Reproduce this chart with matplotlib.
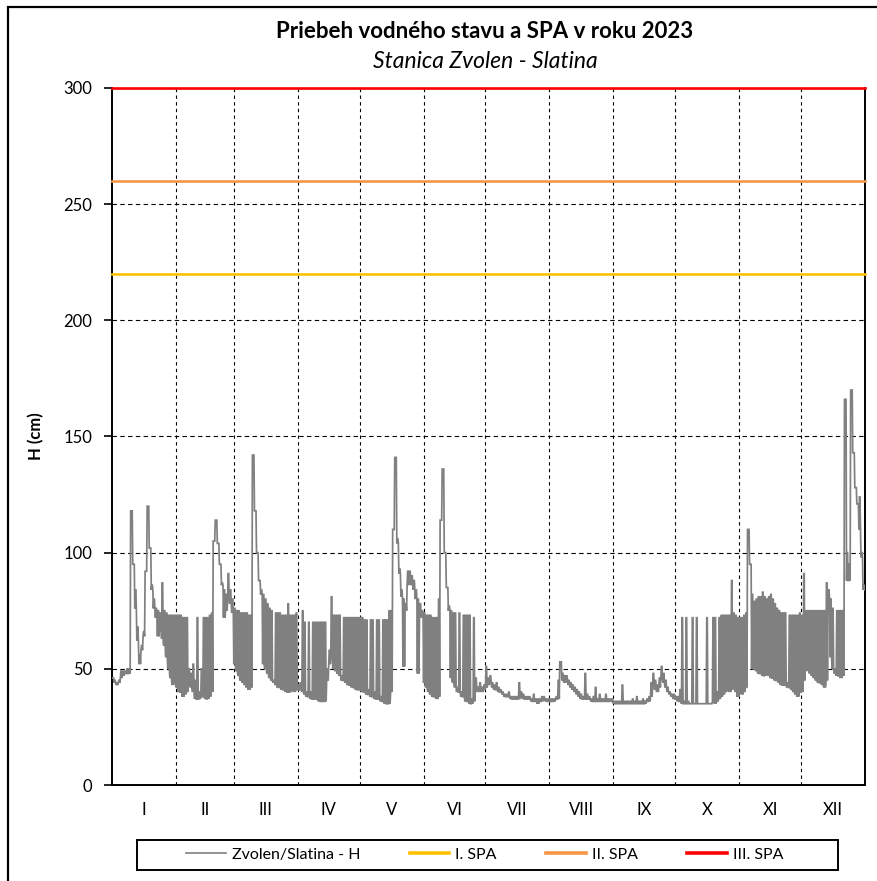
import matplotlib
matplotlib.use("Agg")
import matplotlib.pyplot as plt
from matplotlib.patches import Rectangle
from matplotlib.lines import Line2D

plt.rcParams['font.family'] = ['Lato', 'DejaVu Sans']

# ---------------- data ----------------
months = ['I', 'II', 'III', 'IV', 'V', 'VI', 'VII', 'VIII', 'IX', 'X', 'XI', 'XII']
month_days = [31, 28, 31, 30, 31, 30, 31, 31, 30, 31, 30, 31]

spa_levels = [220, 260, 300]
spa_labels = ['I. SPA', 'II. SPA', 'III. SPA']
spa_colors = ['#FFC000', '#F79646', '#FF0000']
series_label = 'Zvolen/Slatina - H'

# daily maximum / minimum water level H (cm)
jan_high = [46, 45, 44, 45, 49, 49, 49, 50, 50, 118, 95, 84, 68, 56, 60, 66, 92, 120, 102, 86,
            80, 76, 75, 74, 87, 75, 74, 73, 73, 73, 73]
jan_low = [46, 44, 43, 44, 46, 47, 48, 48, 48, 118, 95, 76, 62, 52, 58, 64, 92, 120, 102, 84,
           76, 72, 64, 68, 63, 60, 55, 50, 46, 43, 45]
feb_high = [73, 73, 73, 72, 72, 72, 50, 48, 52, 45, 72, 40, 50, 72, 72, 72, 73, 74, 105, 114,
            104, 95, 87, 84, 82, 91, 84, 80]
feb_low = [42, 40, 40, 38, 39, 40, 44, 42, 40, 37, 37, 37, 38, 38, 37, 37, 38, 40, 105, 114,
           104, 95, 86, 72, 75, 80, 78, 74]
mar_high = [76, 75, 75, 74, 74, 74, 74, 73, 73, 142, 118, 100, 88, 84, 82, 80, 78, 76, 75, 45,
            74, 74, 74, 73, 73, 73, 78, 73, 73, 73, 74]
mar_low = [52, 49, 47, 45, 44, 43, 42, 41, 42, 142, 118, 100, 88, 82, 52, 50, 48, 46, 45, 44,
           43, 42, 42, 41, 41, 40, 40, 40, 41, 40, 41]
apr_high = [43, 44, 75, 70, 40, 70, 40, 70, 70, 70, 70, 70, 70, 70, 50, 58, 81, 73, 73, 73,
            73, 47, 72, 72, 72, 72, 72, 72, 72, 72]
apr_low = [41, 41, 40, 39, 38, 38, 37, 37, 37, 37, 36, 36, 36, 36, 45, 52, 55, 50, 49, 48,
           47, 45, 45, 44, 43, 43, 42, 42, 41, 41]
may_high = [72, 72, 71, 71, 41, 71, 71, 40, 71, 71, 38, 71, 71, 71, 75, 75, 110, 141, 106, 93,
            84, 80, 78, 92, 92, 90, 88, 84, 80, 78, 75]
may_low = [41, 40, 40, 39, 39, 38, 38, 37, 37, 37, 36, 36, 35, 35, 35, 40, 110, 141, 104, 91,
           81, 51, 75, 86, 88, 86, 84, 80, 48, 74, 72]
jun_high = [74, 73, 73, 73, 72, 72, 72, 80, 114, 136, 100, 85, 77, 75, 74, 74, 42, 74, 40, 73,
            73, 73, 73, 37, 72, 46, 42, 44, 42, 43]
jun_low = [44, 42, 40, 39, 38, 38, 37, 38, 114, 136, 100, 85, 75, 46, 44, 42, 40, 40, 38, 38,
           36, 36, 35, 35, 36, 42, 40, 41, 40, 41]
jul_high = [51, 46, 47, 44, 43, 44, 42, 41, 40, 39, 39, 40, 38, 38, 38, 38, 44, 40, 39, 38,
            38, 38, 37, 39, 37, 37, 37, 38, 38, 37, 37]
jul_low = [42, 43, 44, 42, 41, 41, 40, 40, 39, 38, 38, 38, 37, 37, 37, 37, 37, 38, 37, 37,
           37, 37, 36, 36, 36, 35, 36, 36, 37, 36, 36]
aug_high = [37, 37, 37, 38, 45, 53, 48, 47, 47, 45, 44, 43, 42, 41, 40, 39, 38, 48, 39, 38,
            37, 38, 42, 37, 39, 37, 37, 39, 37, 37, 37]
aug_low = [36, 36, 36, 37, 37, 53, 45, 44, 45, 43, 42, 41, 40, 39, 38, 37, 37, 37, 37, 37,
           36, 36, 36, 36, 36, 36, 36, 36, 36, 36, 36]
sep_high = [36, 36, 36, 36, 43, 36, 36, 36, 36, 37, 36, 38, 36, 36, 37, 36, 37, 38, 44, 48,
            45, 43, 46, 51, 48, 45, 42, 40, 39, 39]
sep_low = [35, 35, 35, 35, 35, 35, 35, 35, 35, 35, 35, 35, 35, 35, 35, 35, 36, 36, 38, 43,
           41, 40, 42, 46, 44, 42, 40, 39, 38, 37]
oct_high = [38, 38, 41, 72, 36, 72, 36, 35, 72, 35, 72, 35, 35, 35, 35, 72, 35, 35, 72, 72,
            40, 72, 73, 73, 73, 73, 73, 88, 74, 73, 72]
oct_low = [37, 36, 36, 35, 35, 35, 35, 35, 35, 35, 35, 35, 35, 35, 35, 35, 35, 35, 36, 35,
           36, 37, 38, 39, 40, 41, 40, 41, 42, 40, 38]
nov_high = [72, 72, 73, 74, 110, 95, 82, 79, 80, 81, 81, 83, 81, 80, 81, 82, 80, 78, 76, 75,
            74, 74, 74, 44, 73, 73, 73, 73, 73, 74]
nov_low = [40, 39, 40, 42, 110, 95, 50, 50, 49, 48, 48, 47, 47, 48, 47, 46, 46, 45, 45, 44,
           43, 43, 43, 42, 42, 41, 40, 39, 38, 40]
dec_high = [73, 91, 75, 75, 75, 75, 75, 75, 75, 75, 75, 75, 87, 84, 80, 76, 50, 75, 75, 75,
            75, 166, 100, 95, 170, 143, 128, 121, 124, 100, 86]
dec_low = [40, 45, 50, 49, 48, 47, 46, 45, 44, 44, 43, 42, 45, 80, 55, 50, 48, 47, 47, 46,
           47, 166, 88, 88, 170, 143, 128, 121, 110, 98, 84]

h_high = (jan_high + feb_high + mar_high + apr_high + may_high + jun_high +
          jul_high + aug_high + sep_high + oct_high + nov_high + dec_high)
h_low = (jan_low + feb_low + mar_low + apr_low + may_low + jun_low +
         jul_low + aug_low + sep_low + oct_low + nov_low + dec_low)

# ---------------- figure ----------------
W, H = 877, 881
fig = plt.figure(figsize=(W / 100, H / 100), dpi=100)

def fx(px):
    return px / W

def fy(py):
    return 1 - py / H

ax = fig.add_axes([fx(112), fy(785), fx(865) - fx(112), fy(88) - fy(785)])

# hydro-peaking series: each day goes min -> max -> max -> min
xs, ys = [], []
for d, (hi, lo) in enumerate(zip(h_high, h_low)):
    xs += [d + 0.05, d + 0.3, d + 0.55, d + 0.8]
    ys += [lo, hi, hi, lo]
ax.plot(xs, ys, color='#808080', lw=1.25, solid_joinstyle='miter', zorder=3)

for lev, col in zip(spa_levels, spa_colors):
    ax.axhline(lev, color=col, lw=1.9, zorder=4, clip_on=False)

total = sum(month_days)
bounds = []
acc = 0
for m in month_days:
    acc += m
    bounds.append(acc)
mids = [b - m / 2 for b, m in zip(bounds, month_days)]

ax.set_xlim(0, total)
ax.set_ylim(0, 300)

for b in bounds[:-1]:
    ax.axvline(b, color='black', lw=0.8, linestyle=(0, (3, 3)), zorder=1)
for yv in range(50, 300, 50):
    ax.axhline(yv, color='black', lw=0.8, linestyle=(0, (4, 3)), zorder=1)

ax.set_xticks(mids)
ax.set_xticklabels(months, fontsize=12)
ax.tick_params(axis='x', length=0, pad=12)
ax.set_yticks(range(0, 301, 50))
ax.tick_params(axis='y', direction='out', length=6, width=1.2, labelsize=12, pad=8)

for s in ['left', 'bottom', 'right']:
    ax.spines[s].set_linewidth(1.4)
    ax.spines[s].set_color('black')
ax.spines['top'].set_visible(False)

ax.set_ylabel('H (cm)', fontsize=12, fontweight='bold', labelpad=14)

fig.text(fx(485), fy(32), 'Priebeh vodného stavu a SPA v roku 2023', ha='center', va='center',
         fontsize=16, fontweight='bold')
fig.text(fx(485), fy(61), 'Stanica Zvolen - Slatina', ha='center', va='center',
         fontsize=16.5, style='italic')

# legend
handles = [Line2D([], [], color='#808080', lw=1.2)]
handles += [Line2D([], [], color=c, lw=2.6) for c in spa_colors]
labels = [series_label] + spa_labels
fig.legend(handles, labels, loc='center left', bbox_to_anchor=(fx(186), fy(855)), ncol=4,
           frameon=False, fontsize=11.5, handlelength=2.5, handletextpad=0.35,
           columnspacing=3.1, borderaxespad=0, borderpad=0)
fig.patches.append(Rectangle((fx(137), fy(870)), fx(838) - fx(137), fy(840) - fy(870),
                             transform=fig.transFigure, fill=False, lw=1.4, edgecolor='black'))

# outer chart border (partially cropped in the reference)
fig.patches.append(Rectangle((fx(8), -0.1), 1.2, fy(7) + 0.1, transform=fig.transFigure,
                             fill=False, lw=1.6, edgecolor='black'))

fig.savefig('out.png', dpi=100)
